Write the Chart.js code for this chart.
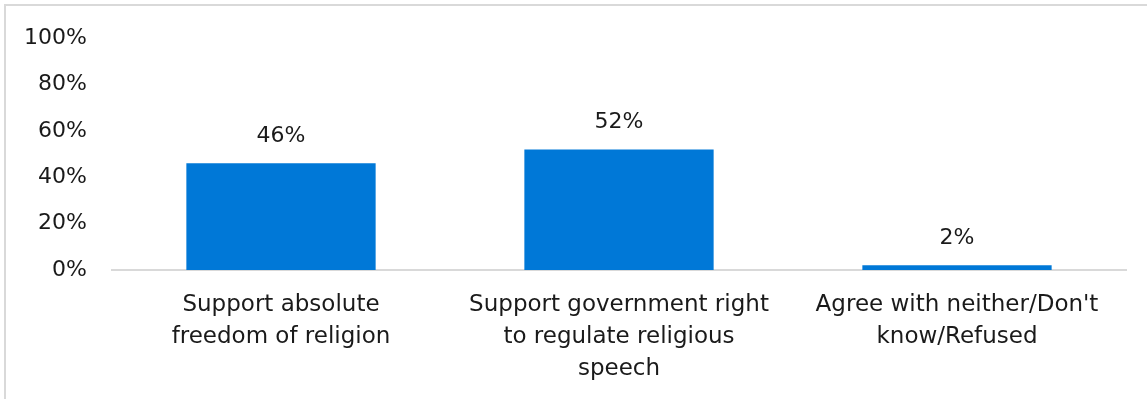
<!DOCTYPE html>
<html>
<head>
<meta charset="utf-8">
<script src="https://cdn.jsdelivr.net/npm/chart.js@4"></script>
<style>
    html, body { margin: 0; padding: 0; background: #fff; overflow: hidden; }
    #frame {
        position: absolute; left: 4px; top: 4px; width: 1200px; height: 450px;
        border-top: 2px solid #d9d9d9; border-left: 2px solid #d9d9d9;
    }
    #wrap { position: absolute; left: 0; top: 0; width: 1147px; height: 399px; }
</style>
</head>
<body>
<div id="frame"></div>
<div id="wrap"><canvas id="myChart" width="1147" height="399"></canvas></div>
<script>
var categories = [
    ["Support absolute", "freedom of religion"],
    ["Support government right", "to regulate religious", "speech"],
    ["Agree with neither/Don't", "know/Refused"]
];
var values = [46, 52, 2];
var tickValues = [0, 20, 40, 60, 80, 100];

var fontFamily = "'DejaVu Sans', sans-serif";

// draws the value above each bar
const barLabels = {
    id: 'barLabels',
    afterDatasetsDraw(chart) {
        let ctx = chart.ctx;
        let meta = chart.getDatasetMeta(0);
        ctx.save();
        ctx.font = "22px " + fontFamily;
        ctx.fillStyle = '#1a1a1a';
        ctx.textAlign = 'center';
        ctx.textBaseline = 'middle';
        meta.data.forEach(function (bar, i) {
            ctx.fillText(values[i] + '%', bar.x, bar.y - 27);
        });
        ctx.restore();
    }
};

const ctx = document.getElementById('myChart');

new Chart(ctx, {
    type: 'bar',
    data: {
        labels: categories,
        datasets: [{
            data: values,
            backgroundColor: '#0078d7',
            borderWidth: 0,
            categoryPercentage: 1,
            barPercentage: 0.56
        }]
    },
    options: {
        responsive: false,
        animation: false,
        devicePixelRatio: 1,
        layout: { padding: { left: 0, right: 21, top: 34, bottom: 0 } },
        plugins: {
            legend: { display: false },
            tooltip: { enabled: false }
        },
        scales: {
            x: {
                grid: { display: false, drawTicks: false },
                border: { display: true, color: '#d9d9d9', width: 2 },
                ticks: {
                    color: '#1a1a1a',
                    font: { family: fontFamily, size: 23, lineHeight: 1.4 },
                    padding: 19,
                    maxRotation: 0,
                    autoSkip: false
                },
                afterFit(scale) { scale.height = 129; }
            },
            y: {
                min: 0,
                max: 100,
                afterBuildTicks(scale) {
                    scale.ticks = tickValues.map(v => ({ value: v }));
                },
                grid: { display: false, drawTicks: false },
                border: { display: false },
                ticks: {
                    color: '#1a1a1a',
                    font: { family: fontFamily, size: 22 },
                    padding: 25,
                    callback: v => v + '%'
                },
                afterFit(scale) { scale.width = 112; }
            }
        }
    },
    plugins: [barLabels]
});
</script>
</body>
</html>
